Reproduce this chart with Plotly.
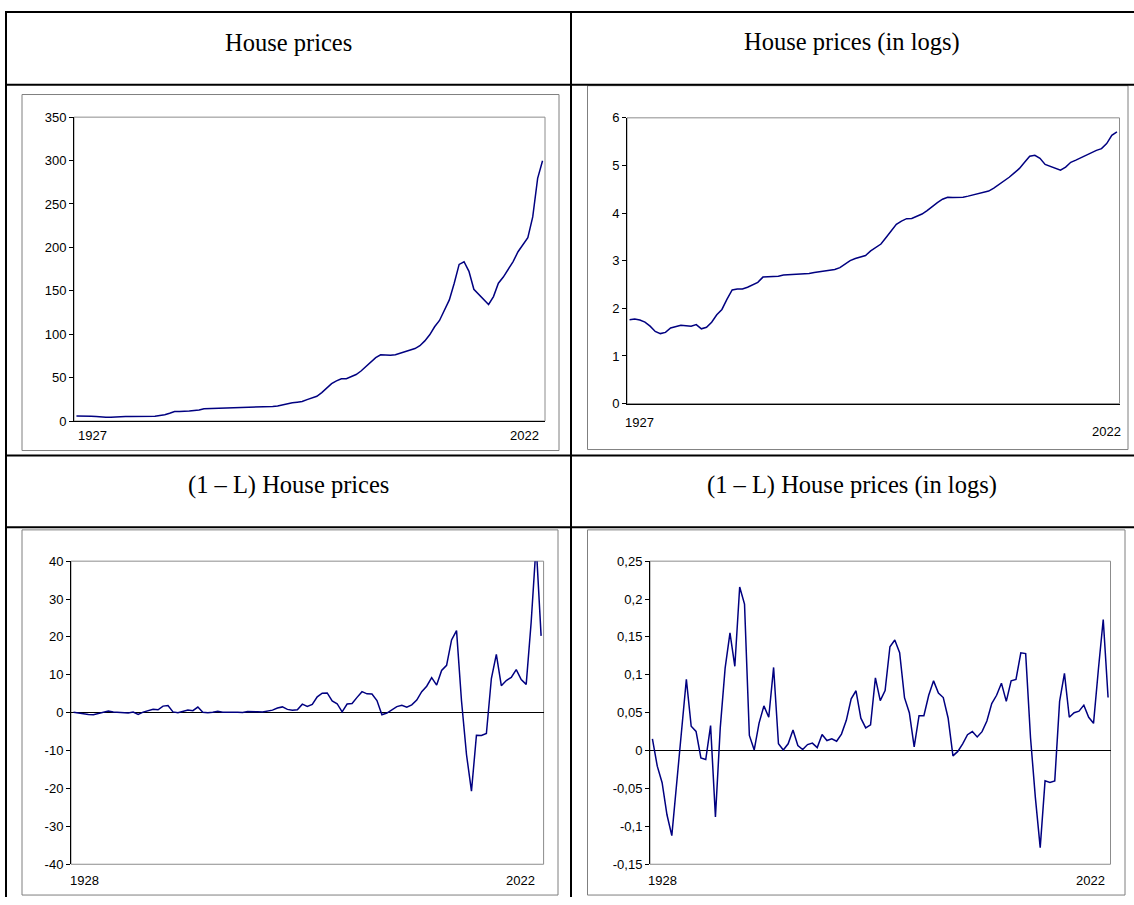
import numpy as np
import plotly.graph_objects as go

# ---------------- data ----------------
years = list(range(1927, 2023))
house_price = [
    5.81, 5.90, 5.78, 5.54, 5.09, 4.55, 4.35, 4.46, 4.90, 5.06,      # 1927-1936
    5.19, 5.14, 5.08, 5.25, 4.81, 4.96, 5.53, 6.46, 7.22, 8.96,      # 1937-1946
    10.87, 11.09, 11.10, 11.51, 12.21, 12.76, 14.24, 14.37, 14.38, 14.51,  # 1947-1956
    14.91, 15.01, 15.03, 15.15, 15.30, 15.36, 15.69, 15.90, 16.15, 16.35,  # 1957-1966
    16.71, 17.39, 18.62, 20.15, 21.03, 21.67, 22.42, 24.68, 26.36, 28.53,  # 1967-1976
    32.72, 37.86, 43.08, 46.20, 48.57, 48.81, 51.11, 53.52, 57.57, 63.12,  # 1977-1986
    68.10, 73.04, 76.25, 75.72, 75.64, 76.32, 77.94, 79.92, 81.37, 83.43,  # 1987-1996
    86.75, 92.30, 99.29, 108.53, 115.82, 126.98, 139.49, 158.70, 180.37, 183.46,  # 1997-2006
    172.43, 151.71, 145.77, 139.77, 134.29, 143.31, 158.70, 165.84, 174.34, 183.64,  # 2007-2016
    195.00, 203.77, 211.24, 235.10, 279.50, 299.77,                  # 2017-2022
]

# the four panels: levels, logs and their first differences (1 - L)
log_price = np.log(house_price)
diff_years = years[1:]
d_price = np.diff(house_price)
d_log_price = np.diff(log_price)

panel_titles = [
    "House prices",
    "House prices (in logs)",
    "(1 \u2013 L) House prices",
    "(1 \u2013 L) House prices (in logs)",
]

tl_tickvals = [0, 50, 100, 150, 200, 250, 300, 350]
tl_ticktext = ["0", "50", "100", "150", "200", "250", "300", "350"]
tr_tickvals = [0, 1, 2, 3, 4, 5, 6]
tr_ticktext = ["0", "1", "2", "3", "4", "5", "6"]
bl_tickvals = [-40, -30, -20, -10, 0, 10, 20, 30, 40]
bl_ticktext = ["-40", "-30", "-20", "-10", "0", "10", "20", "30", "40"]
br_tickvals = [-0.15, -0.10, -0.05, 0, 0.05, 0.10, 0.15, 0.20, 0.25]
br_ticktext = ["-0,15", "-0,1", "-0,05", "0", "0,05", "0,1", "0,15", "0,2", "0,25"]

# ---------------- layout helpers (pixel -> paper) ----------------
W, H = 1134, 905


def px(x):
    return x / W


def py(y):
    return 1 - y / H


LINE = dict(color="#000080", width=1.5)
TICKFONT = dict(family="Liberation Sans, Arial, sans-serif", size=13, color="#000000")
SERIF = "Liberation Serif, Times New Roman, serif"

fig = go.Figure()

fig.add_trace(go.Scatter(x=years, y=house_price, mode="lines", line=LINE,
                         xaxis="x", yaxis="y", hoverinfo="skip"))
fig.add_trace(go.Scatter(x=years, y=log_price, mode="lines", line=LINE,
                         xaxis="x2", yaxis="y2", hoverinfo="skip"))
fig.add_trace(go.Scatter(x=diff_years, y=d_price, mode="lines", line=LINE,
                         xaxis="x3", yaxis="y3", hoverinfo="skip"))
fig.add_trace(go.Scatter(x=diff_years, y=d_log_price, mode="lines", line=LINE,
                         xaxis="x4", yaxis="y4", hoverinfo="skip"))

# plot areas in pixels: (left, right, top, bottom)
areas = {
    1: (74, 545, 112, 421),
    2: (627, 1119.5, 112.7, 403.3),
    3: (71, 543.6, 563.5, 871.7),
    4: (650, 1110.5, 563.5, 871.7),
}
yinfo = {
    1: ([0, 350], tl_tickvals, tl_ticktext, False),
    2: ([0, 6], tr_tickvals, tr_ticktext, False),
    3: ([-40, 40], bl_tickvals, bl_ticktext, True),
    4: ([-0.15, 0.25], br_tickvals, br_ticktext, True),
}
xranges = {
    1: [years[0] - 0.5, years[-1] + 0.5],
    2: [years[0] - 0.5, years[-1] + 0.5],
    3: [diff_years[0] - 0.5, diff_years[-1] + 0.5],
    4: [diff_years[0] - 0.5, diff_years[-1] + 0.5],
}

layout = dict(
    width=W, height=H,
    margin=dict(l=0, r=0, t=0, b=0),
    paper_bgcolor="white", plot_bgcolor="white",
    showlegend=False,
)

shapes = []
for i in range(1, 5):
    l, r, t, b = areas[i]
    sfx = "" if i == 1 else str(i)
    yr, tv, tt, zero = yinfo[i]
    layout["xaxis" + sfx] = dict(
        domain=[px(l), px(r)], range=xranges[i], anchor="y" + sfx,
        showticklabels=False, ticks="", showgrid=False, zeroline=False,
        showline=not zero, linecolor="#000000", linewidth=1, fixedrange=True,
    )
    layout["yaxis" + sfx] = dict(
        domain=[py(b), py(t)], range=yr, anchor="x" + sfx,
        tickvals=tv, ticktext=tt, tickfont=TICKFONT,
        ticks="outside", ticklen=4, tickwidth=1, tickcolor="#000000",
        showline=True, linecolor="#000000", linewidth=1,
        showgrid=False, zeroline=zero, zerolinecolor="#000000", zerolinewidth=1,
        fixedrange=True,
    )
    # grey plot-area frame
    shapes.append(dict(type="rect", xref="x" + sfx + " domain", yref="y" + sfx + " domain",
                       x0=0, x1=1, y0=0, y1=1, layer="below",
                       line=dict(color="#8c8c8c", width=1)))

# grey chart-area frames
for (l, r, t, b) in [(22, 559, 89, 451), (587.5, 1128, 80, 450),
                     (22, 558, 531.7, 903), (587.5, 1125, 531.7, 903)]:
    shapes.append(dict(type="rect", xref="paper", yref="paper",
                       x0=px(l), x1=px(r), y0=py(b), y1=py(t),
                       line=dict(color="#7f7f7f", width=1)))

# table rules (the right and bottom edges of the table lie outside the picture)
for y in [5, 79, 456, 529]:
    shapes.append(dict(type="line", xref="paper", yref="paper",
                       x0=px(5), x1=1, y0=py(y), y1=py(y),
                       line=dict(color="#000000", width=2)))
for x in [6, 571]:
    shapes.append(dict(type="line", xref="paper", yref="paper",
                       x0=px(x), x1=px(x), y0=0, y1=py(5),
                       line=dict(color="#000000", width=2)))
layout["shapes"] = shapes

annotations = []
# panel headers
for text, cx, cy in [(panel_titles[0], 288.5, 36), (panel_titles[1], 852, 36),
                     (panel_titles[2], 288.5, 486), (panel_titles[3], 852, 486)]:
    annotations.append(dict(text=text, x=px(cx), y=py(cy), xref="paper", yref="paper",
                            xanchor="center", yanchor="middle", showarrow=False,
                            font=dict(family=SERIF, size=24.5, color="#000000")))

# first / last year labels of the category axes
year_labels = [
    (str(years[0]), 76, 436, "left"), (str(years[-1]), 541, 436, "right"),
    (str(years[0]), 623, 423, "left"), (str(years[-1]), 1123, 432, "right"),
    (str(diff_years[0]), 68, 888, "left"), (str(diff_years[-1]), 537, 888, "right"),
    (str(diff_years[0]), 645.5, 888, "left"), (str(diff_years[-1]), 1107, 888, "right"),
]
for text, x, y, anchor in year_labels:
    annotations.append(dict(text=text, x=px(x), y=py(y), xref="paper", yref="paper",
                            xanchor=anchor, yanchor="middle", showarrow=False,
                            font=TICKFONT))
layout["annotations"] = annotations

fig.update_layout(**layout)

page_fix = (
    "document.documentElement.style.margin='0';"
    "document.body.style.margin='0';"
    "document.body.style.overflow='hidden';"
    "var gd=document.getElementsByClassName('plotly-graph-div')[0];"
    "gd.style.position='fixed';gd.style.left='0px';gd.style.top='0px';"
)
fig.write_html("out.html", config={"displayModeBar": False}, post_script=page_fix)
